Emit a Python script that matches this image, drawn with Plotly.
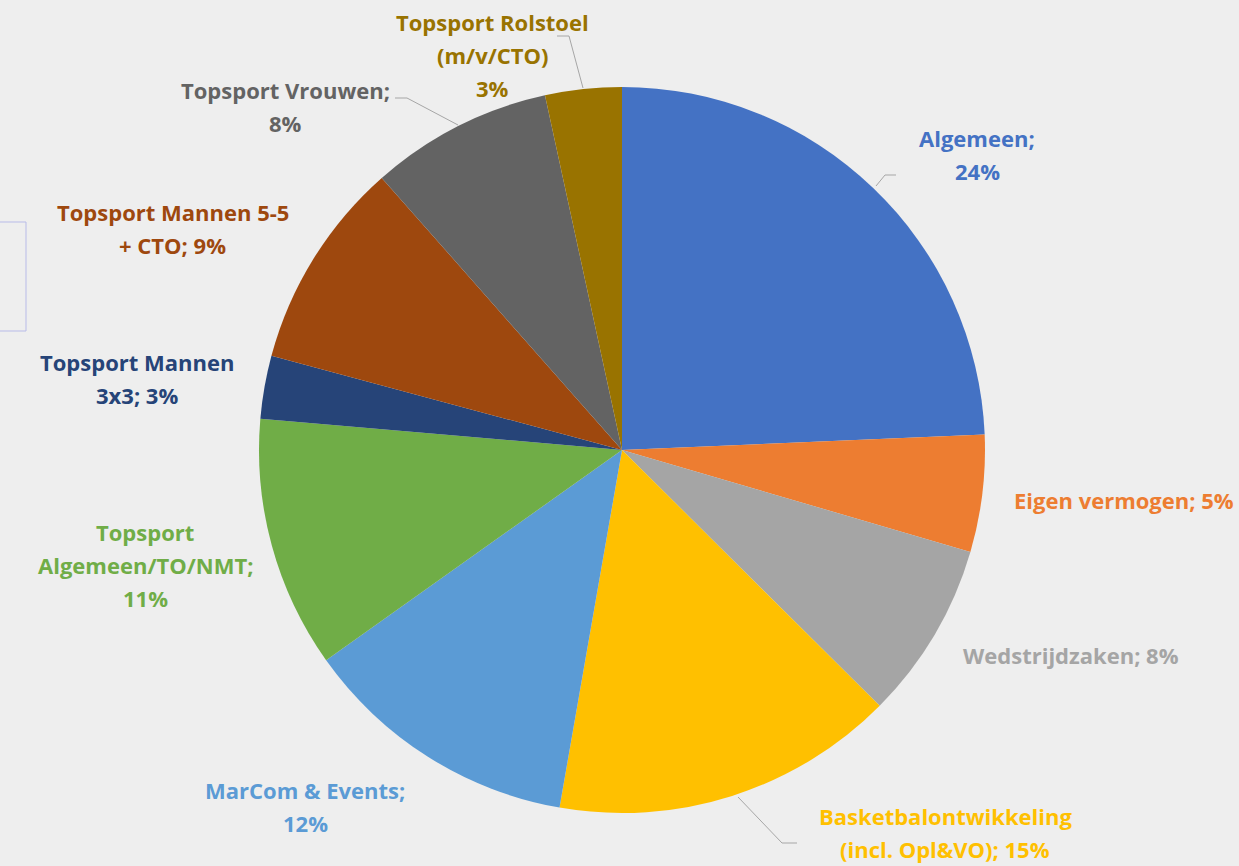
"""
Begroting verdeling - pie chart
"""
import plotly.graph_objects as go

W, H = 1239, 866

categories = [
    "Algemeen", "Eigen vermogen", "Wedstrijdzaken", "Basketbalontwikkeling (incl. Opl&VO)",
    "MarCom & Events", "Topsport Algemeen/TO/NMT", "Topsport Mannen 3x3",
    "Topsport Mannen 5-5 + CTO", "Topsport Vrouwen", "Topsport Rolstoel (m/v/CTO)",
]
values = [24.3, 5.2, 7.9, 15.3, 12.4, 11.2, 2.8, 9.3, 8.1, 3.4]
colors = ["#4472C4", "#ED7D31", "#A5A5A5", "#FFC000", "#5B9BD5",
          "#70AD47", "#264478", "#9E480E", "#636363", "#997300"]
# how each data label is broken over lines ({p} = percentage)
label_lines = [
    ["Algemeen;", "{p}"],
    ["Eigen vermogen; {p}"],
    ["Wedstrijdzaken; {p}"],
    ["Basketbalontwikkeling", "(incl. Opl&VO); {p}"],
    ["MarCom & Events;", "{p}"],
    ["Topsport", "Algemeen/TO/NMT;", "{p}"],
    ["Topsport Mannen", "3x3; {p}"],
    ["Topsport Mannen 5-5", "+ CTO; {p}"],
    ["Topsport Vrouwen;", "{p}"],
    ["Topsport Rolstoel", "(m/v/CTO)", "{p}"],
]
# label centre (first line) in pixels
label_pos = [(977, 138), (1124, 500), (1071, 655), (945, 816), (305, 790),
             (145, 532), (137, 362), (173, 212), (285, 90), (492, 22)]
leaders = [
    [(876, 186), (885, 175), (896, 175)],
    [(738, 797), (782, 843), (797, 843)],
    [(458, 125), (407, 98), (395, 98)],
    [(583, 88), (569, 36), (557, 36)],
]

cx, cy, r = 622, 450, 363


def px(x):
    return x / W


def py(y):
    return 1 - y / H


fig = go.Figure(go.Pie(
    labels=categories,
    values=values,
    sort=False,
    direction="clockwise",
    rotation=0,
    marker=dict(colors=colors, line=dict(width=0)),
    textinfo="none",
    hoverinfo="label+percent",
    showlegend=False,
    domain=dict(x=[px(cx - r), px(cx + r)], y=[py(cy + r), py(cy - r)]),
))

total = sum(values)
annotations = []
for lines, (lx, ly), col, v in zip(label_lines, label_pos, colors, values):
    pct = f"{round(v / total * 100)}%"
    for i, line in enumerate(lines):
        annotations.append(dict(
            x=px(lx), y=py(ly + i * 33), xref="paper", yref="paper",
            text="<b>" + line.replace("{p}", pct).replace("&", "&amp;") + "</b>",
            showarrow=False, xanchor="center", yanchor="middle",
            font=dict(family="Open Sans", size=22, color=col),
        ))

shapes = []
for pts in leaders:
    for (x0, y0), (x1, y1) in zip(pts[:-1], pts[1:]):
        shapes.append(dict(type="line", xref="paper", yref="paper",
                           x0=px(x0), y0=py(y0), x1=px(x1), y1=py(y1),
                           line=dict(color="#A6A6A6", width=1)))
# partial box at left edge
shapes.append(dict(type="rect", xref="paper", yref="paper",
                   x0=px(-2), x1=px(26), y0=py(331), y1=py(222),
                   line=dict(color="#B8BBE8", width=1)))

fig.update_layout(
    width=W, height=H,
    margin=dict(l=0, r=0, t=0, b=0),
    paper_bgcolor="#EEEEEE",
    plot_bgcolor="#EEEEEE",
    annotations=annotations,
    shapes=shapes,
)

fig.write_html("out.html", config={"displayModeBar": False},
               post_script="document.body.style.margin='0';")
